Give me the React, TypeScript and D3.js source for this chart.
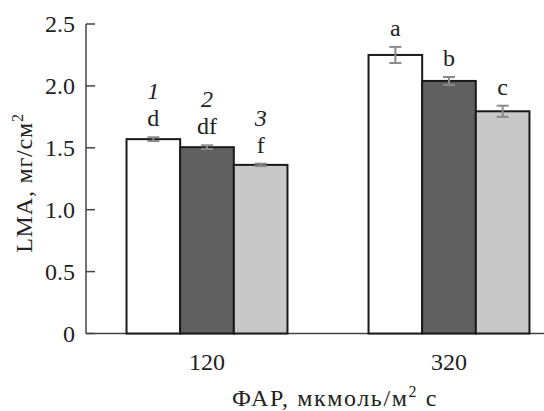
import React from "react";
import * as d3 from "d3";

const categories = ["120", "320"];
const series = ["1", "2", "3"];
const values = [
  [1.57, 1.505, 1.362],
  [2.25, 2.04, 1.795],
];
const errors = [
  [0.015, 0.015, 0.01],
  [0.065, 0.032, 0.045],
];
const letters = [
  ["d", "df", "f"],
  ["a", "b", "c"],
];
const yTicks = [0, 0.5, 1.0, 1.5, 2.0, 2.5];
const yTickLabels = ["0", "0.5", "1.0", "1.5", "2.0", "2.5"];
const fills = ["#ffffff", "#606060", "#c8c8c8"];

const FONT = '"Liberation Serif"';

export default function App() {
  const W = 544, H = 411;
  const y = d3.scaleLinear().domain([0, 2.5]).range([333.5, 24]);
  const x = d3.scaleBand().domain(categories).range([86, 570]).paddingInner(0.335).paddingOuter(0.1675);
  const xs = d3.scaleBand().domain(series).range([0, x.bandwidth()]);
  const ts = { fontFamily: FONT };
  return (
    <svg width={W} height={H} style={{ position: "absolute", left: 0, top: 0 }}>
      <rect width={W} height={H} fill="#fff" />
      <line x1={86} x2={86} y1={y(2.5)} y2={y(0)} stroke="#444" strokeWidth={1.5} />
      <line x1={86} x2={W} y1={y(0)} y2={y(0)} stroke="#444" strokeWidth={1.5} />
      {yTicks.map((t, i) => (
        <g key={t}>
          <line x1={86} x2={95} y1={y(t)} y2={y(t)} stroke="#444" strokeWidth={1.5} />
          <text x={75} y={y(t)} dy="0.35em" textAnchor="end" fontSize={24} fill="#222" style={ts}>
            {yTickLabels[i]}
          </text>
        </g>
      ))}
      {categories.map((c, ci) => (
        <g key={c}>
          {series.map((s, si) => {
            const v = values[ci][si];
            const e = errors[ci][si];
            const bx = (x(c) as number) + (xs(s) as number);
            const bw = xs.bandwidth();
            const cx = bx + bw / 2;
            const top = y(v + e);
            return (
              <g key={s}>
                <rect x={bx} y={y(v)} width={bw} height={y(0) - y(v)} fill={fills[si]} stroke="#1a1a1a" strokeWidth={2} />
                <line x1={cx} x2={cx} y1={y(v + e)} y2={y(v - e)} stroke="#8a8a8a" strokeWidth={2} />
                <line x1={cx - 6} x2={cx + 6} y1={y(v + e)} y2={y(v + e)} stroke="#8a8a8a" strokeWidth={2} />
                <line x1={cx - 6} x2={cx + 6} y1={y(v - e)} y2={y(v - e)} stroke="#8a8a8a" strokeWidth={2} />
                <text x={cx} y={top - 11} textAnchor="middle" fontSize={24} fill="#222" style={ts}>
                  {letters[ci][si]}
                </text>
                {ci === 0 && (
                  <text x={cx} y={top - 38} textAnchor="middle" fontSize={24} fontStyle="italic" fill="#222" style={ts}>
                    {s}
                  </text>
                )}
              </g>
            );
          })}
          <text x={(x(c) as number) + x.bandwidth() / 2} y={370} textAnchor="middle" fontSize={24} fill="#222" style={ts}>
            {c}
          </text>
        </g>
      ))}
      <text x={335} y={406} textAnchor="middle" fontSize={24} fill="#222" style={{ ...ts, letterSpacing: "1.6px" }}>
        ФАР, мкмоль/м<tspan dy={-9} fontSize={16}>2</tspan><tspan dy={9}> с</tspan>
      </text>
      <text transform={`translate(32,183) rotate(-90)`} textAnchor="middle" fontSize={24} fill="#222" style={{ ...ts, letterSpacing: "0.8px" }}>
        LMA, мг/см<tspan dy={-9} fontSize={16}>2</tspan>
      </text>
    </svg>
  );
}
